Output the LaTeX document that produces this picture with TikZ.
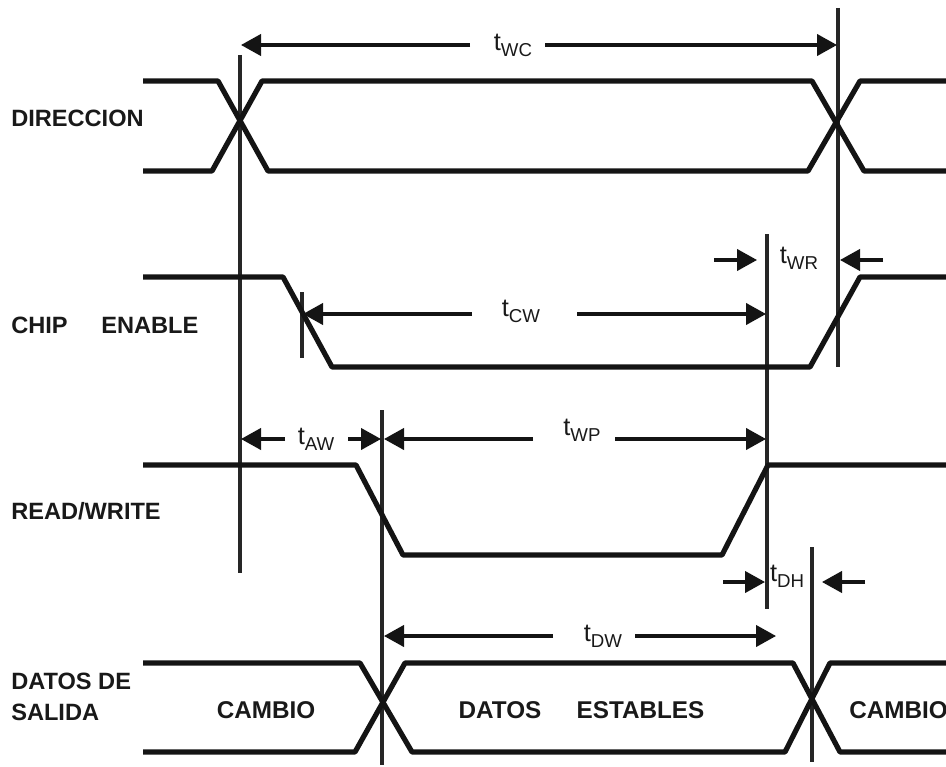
\documentclass[tikz,border=0pt]{standalone}
\usepackage{fontspec}
\setmainfont{Liberation Sans}
\usetikzlibrary{arrows.meta}
\newcommand{\tsub}[2]{\fontsize{#1}{#1}\selectfont t\raisebox{-4.5pt}{\fontsize{14}{14}\selectfont #2}}
\tikzset{
  signal/.style={line width=3.9pt,line join=round,line cap=butt,draw=black!92},
  guide/.style={line width=2.3pt,draw=black!85},
  dim/.style={line width=2.3pt,draw=black!92,-{Triangle[length=15pt,width=16pt]},shorten >=0pt},
  siglabel/.style={font=\fontsize{17.7}{17.7}\selectfont\bfseries,anchor=west,inner sep=0pt,text=black!90},
  midlabel/.style={font=\fontsize{18.2}{18.2}\selectfont\bfseries,inner sep=0pt,text=black!90},
  timelabel/.style={inner sep=0pt,text=black!90}
}
\begin{document}
\begin{tikzpicture}[x=0.75pt,y=-0.75pt]
\useasboundingbox (0,0) rectangle (946,767);
% guide end points
\coordinate (v1t) at (240,55);  \coordinate (v1b) at (240,573);
\coordinate (v2t) at (838,8);   \coordinate (v2b) at (838,367);
\coordinate (v3t) at (302,292); \coordinate (v3b) at (302,358);
\coordinate (v4t) at (767,234); \coordinate (v4b) at (767,609);
\coordinate (v5t) at (382,410); \coordinate (v5b) at (382,765);
\coordinate (v6t) at (812,547); \coordinate (v6b) at (812,762);
\draw[guide] (v1t) -- (v1b);
\draw[guide] (v2t) -- (v2b);
\draw[guide] (v3t) -- (v3b);
\draw[guide] (v4t) -- (v4b);
\draw[guide] (v5t) -- (v5b);
\draw[guide] (v6t) -- (v6b);
% signals
\draw[signal] (143,81) -- (218,81) -- (268,171) -- (808,171) -- (860,81) -- (946,81);
\draw[signal] (143,171) -- (212,171) -- (262,81) -- (812,81) -- (864,171) -- (946,171);
\draw[signal] (143,277) -- (283,277) -- (332,367) -- (810,367) -- (860,277) -- (946,277);
\draw[signal] (143,465) -- (356,465) -- (403,555) -- (722,555) -- (768,465) -- (946,465);
\draw[signal] (143,663) -- (360,663) -- (412,752) -- (785,752) -- (830,663) -- (946,663);
\draw[signal] (143,752) -- (355,752) -- (405,663) -- (793,663) -- (840,752) -- (946,752);
% signal labels
\node[siglabel] (ldir) at (11,118) {DIRECCION};
\node[siglabel] (lchip) at (11,325) {CHIP};
\node[siglabel] (lena) at (101,325) {ENABLE};
\node[siglabel] (lrw) at (11,511) {READ/WRITE};
\node[siglabel] (ldat) at (11,681) {DATOS DE};
\node[siglabel] (lsal) at (11,712) {SALIDA};
\node[midlabel] (c1) at (266,710) {CAMBIO};
\node[midlabel] (d1) at (500,710) {DATOS};
\node[midlabel] (e1) at (640.5,710) {ESTABLES};
\node[midlabel,anchor=west] (c2) at (849,710) {CAMBIO};
% time labels
\node[timelabel] (twc) at (513,45) {\tsub{19}{WC}};
\node[timelabel] (tcw) at (521,311) {\tsub{19}{CW}};
\node[timelabel] (taw) at (316,439) {\tsub{19}{AW}};
\node[timelabel] (twp) at (582,430) {\tsub{19}{WP}};
\node[timelabel] (tdw) at (603,636) {\tsub{19}{DW}};
\node[timelabel] (twr) at (799,258) {\tsub{19}{WR}};
\node[timelabel] (tdh) at (787,576) {\tsub{19}{DH}};
% dimension arrows
\coordinate (twcl) at (470,45); \coordinate (twcla) at (241,45);
\coordinate (twcr) at (545,45); \coordinate (twcra) at (837,45);
\draw[dim] (twcl) -- (twcla);
\draw[dim] (twcr) -- (twcra);
\coordinate (tcwl) at (472,314); \coordinate (tcwla) at (303,314);
\coordinate (tcwr) at (577,314); \coordinate (tcwra) at (766,314);
\draw[dim] (tcwl) -- (tcwla);
\draw[dim] (tcwr) -- (tcwra);
\coordinate (tawl) at (285,439); \coordinate (tawla) at (241,439);
\coordinate (tawr) at (348,439); \coordinate (tawra) at (381,439);
\draw[dim] (tawl) -- (tawla);
\draw[dim] (tawr) -- (tawra);
\coordinate (twpl) at (533,439); \coordinate (twpla) at (384,439);
\coordinate (twpr) at (615,439); \coordinate (twpra) at (766,439);
\draw[dim] (twpl) -- (twpla);
\draw[dim] (twpr) -- (twpra);
\coordinate (tdwl) at (553,636); \coordinate (tdwla) at (384,636);
\coordinate (tdwr) at (635,636); \coordinate (tdwra) at (776,636);
\draw[dim] (tdwl) -- (tdwla);
\draw[dim] (tdwr) -- (tdwra);
\coordinate (twrl) at (714,260); \coordinate (twrla) at (757,260);
\coordinate (twrr) at (883,260); \coordinate (twrra) at (840,260);
\draw[dim] (twrl) -- (twrla);
\draw[dim] (twrr) -- (twrra);
\coordinate (tdhl) at (723,582); \coordinate (tdhla) at (765,582);
\coordinate (tdhr) at (865,582); \coordinate (tdhra) at (822,582);
\draw[dim] (tdhl) -- (tdhla);
\draw[dim] (tdhr) -- (tdhra);
\end{tikzpicture}
\end{document}
